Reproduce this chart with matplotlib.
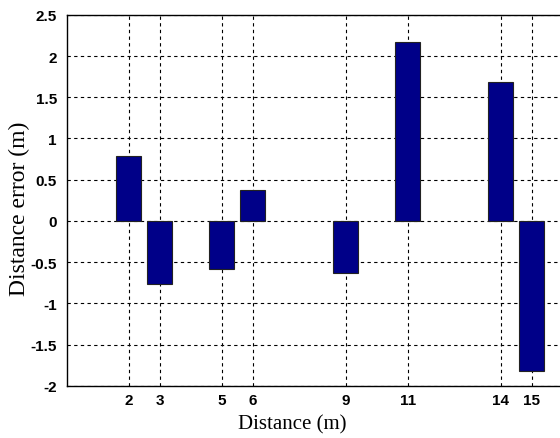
import matplotlib
matplotlib.use('Agg')
import matplotlib.pyplot as plt

# distances (m) and distance errors (m)
distance = [2, 3, 5, 6, 9, 11, 14, 15]
error = [0.79, -0.76, -0.58, 0.38, -0.63, 2.17, 1.68, -1.82]
yticks = [-2, -1.5, -1, -0.5, 0, 0.5, 1, 1.5, 2, 2.5]
ytick_labels = ['-2', '-1.5', '-1', '-0.5', '0', '0.5', '1', '1.5', '2', '2.5']

fig = plt.figure(figsize=(5.6, 4.39), dpi=100)
ax = fig.add_axes([0.119, 0.119, 0.886, 0.845])

ax.bar(distance, error, width=0.8, color='#000088', edgecolor='#222222',
       linewidth=0.8, zorder=3)

ax.set_xlim(0, 16)
ax.set_ylim(-2, 2.5)
ax.set_xticks(distance)
ax.set_xticklabels([str(d) for d in distance])
ax.set_yticks(yticks)
ax.set_yticklabels(ytick_labels)

for lab in ax.get_xticklabels() + ax.get_yticklabels():
    lab.set_fontweight('bold')
    lab.set_fontsize(11)
    lab.set_family('Liberation Sans')

ax.tick_params(axis='y', length=0, pad=7)
ax.tick_params(axis='x', length=0, pad=5)
ax.grid(True, linestyle=(0, (3, 3)), color='black', linewidth=0.8, zorder=0)
ax.spines['right'].set_visible(False)
for s in ['left', 'bottom', 'top']:
    ax.spines[s].set_linewidth(1.0)

ax.set_xlabel('Distance (m)', family='Liberation Serif', fontsize=15)
ax.set_ylabel('Distance error (m)', family='Liberation Serif', fontsize=17)
ax.xaxis.set_label_coords(0.454, -0.078)
ax.yaxis.set_label_coords(-0.074, 0.48)

fig.savefig('out.png', dpi=100)
